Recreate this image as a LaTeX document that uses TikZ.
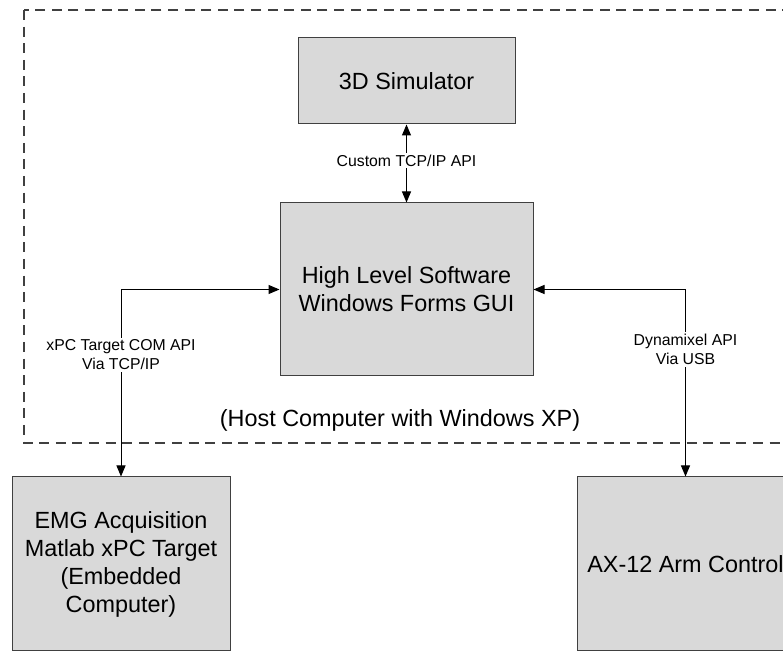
\documentclass[tikz,border=0pt]{standalone}
\usepackage{fontspec}
\setmainfont{Liberation Sans}
\usetikzlibrary{positioning,calc,arrows.meta}
\definecolor{boxgray}{HTML}{D9D9D9}
\definecolor{edgegray}{HTML}{404040}
\tikzset{
  sys block/.style={rectangle, draw=edgegray, fill=boxgray, line width=0.5pt, align=center, inner sep=0pt, font=\fontsize{11.7}{14}\selectfont},
  sys link/.style={draw=black, line width=0.5pt, {Triangle[length=5.5pt,width=4.5pt]}-{Triangle[length=5.5pt,width=4.5pt]}},
  sys label/.style={fill=white, align=center, inner sep=1pt, font=\fontsize{7.9}{9.5}\selectfont},
  host frame/.style={draw=edgegray, line width=1pt, dash pattern=on 5pt off 3.3pt}
}

\begin{document}
\begin{tikzpicture}[x=0.5pt, y=-0.5pt]
    \useasboundingbox (0,0) rectangle (783,652);
    \clip (0,0) rectangle (783,652);

    % Host computer frame
    \draw [host frame] (24,10) rectangle (830,443);
    \node [font=\fontsize{11.7}{14}\selectfont] (HostTxt) at (400,420) {(Host Computer with Windows XP)};

    % Blocks on the host
    \node [sys block, minimum width=108.5pt, minimum height=43pt] (Sim) at (406.5,81) {3D Simulator};
    \node [sys block, minimum width=126.5pt, minimum height=86.5pt] (Gui) at (406.5,289.5) {High Level Software\\Windows Forms GUI};

    % Outside blocks
    \node [sys block, minimum width=109pt, minimum height=87pt] (Emg) at (121,564) {EMG Acquisition\\Matlab xPC Target\\(Embedded\\Computer)};
    \node [sys block, minimum width=108.5pt, minimum height=87pt] (Arm) at (685.5,564) {AX-12 Arm Control};

    % Links
    \draw [sys link] (Sim) -- (Gui) node[sys label, pos=0.46] {Custom TCP/IP API};
    \draw [sys link] (Gui.west) -| (Emg.north) node[sys label, pos=0.675] {xPC Target COM API\\Via TCP/IP};
    \draw [sys link] (Gui.east) -| (Arm.north) node[sys label, pos=0.66] {Dynamixel API\\Via USB};
\end{tikzpicture}
\end{document}
